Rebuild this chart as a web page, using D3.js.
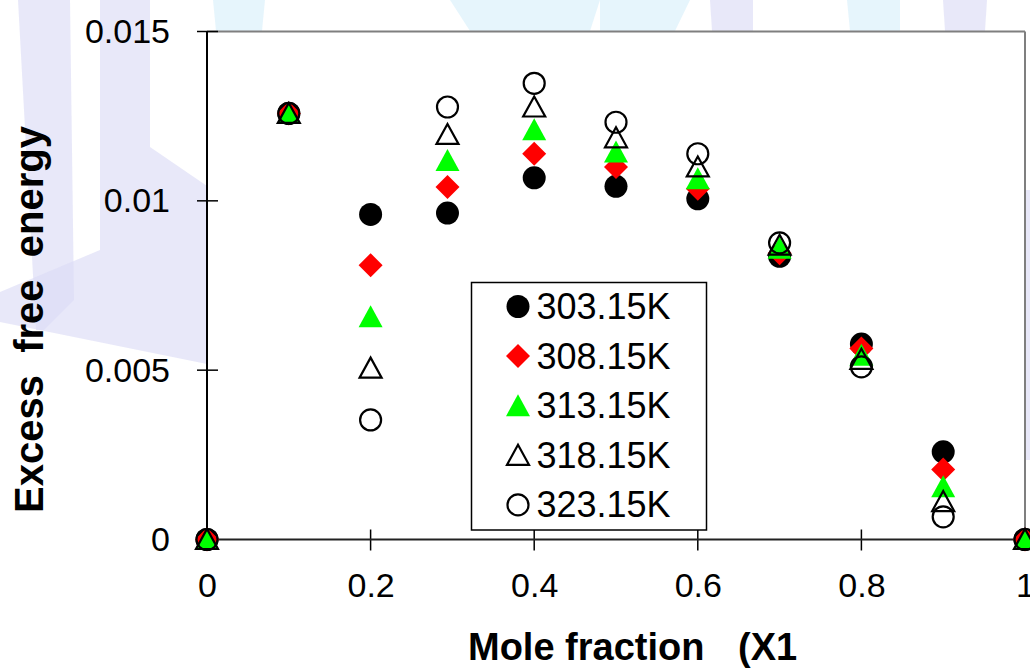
<!DOCTYPE html>
<html><head><meta charset="utf-8">
<script src="https://cdn.jsdelivr.net/npm/d3@7"></script>
<style>
body{margin:0;background:#fff}
svg{display:block}
text{font-family:"Liberation Sans",Arial,Helvetica,sans-serif;fill:#000}
</style>
</head><body>
<svg id="c" width="1030" height="672"></svg>
<script>
// ---- data ----
const xValues = [0, 0.1, 0.2, 0.294, 0.4, 0.5, 0.6, 0.7, 0.8, 0.9, 1];
const s303 = [0, 0.01258, 0.00960, 0.00964, 0.01068, 0.01043, 0.01006, 0.00836, 0.00577, 0.00259, 0];
const s308 = [0, 0.01258, 0.00810, 0.01041, 0.01139, 0.01100, 0.01036, 0.00845, 0.00564, 0.00207, 0];
const s313 = [0, 0.01258, 0.00658, 0.01119, 0.01210, 0.01144, 0.01065, 0.00860, 0.00544, 0.00156, 0];
const s318 = [0, 0.01258, 0.00506, 0.01196, 0.01277, 0.01186, 0.01100, 0.00869, 0.00532, 0.00112, 0];
const s323 = [0, 0.01258, 0.00353, 0.01277, 0.01347, 0.01232, 0.01139, 0.00876, 0.00510, 0.00067, 0];
const seriesNames = ["303.15K", "308.15K", "313.15K", "318.15K", "323.15K"];
const xTicks = [0, 0.2, 0.4, 0.6, 0.8, 1];
const yTicks = [0, 0.005, 0.01, 0.015];
const xTitle = ["Mole fraction", "(X1"];
const yTitle = "Excess  free  energy";

const series = [
  {name: seriesNames[0], values: s303, shape: "circle",   fill: "#000000", stroke: "none"},
  {name: seriesNames[1], values: s308, shape: "diamond",  fill: "#ff0000", stroke: "none"},
  {name: seriesNames[2], values: s313, shape: "triangle", fill: "#00ff00", stroke: "none"},
  {name: seriesNames[3], values: s318, shape: "otriangle", fill: "none", stroke: "#000000"},
  {name: seriesNames[4], values: s323, shape: "ocircle",  fill: "none", stroke: "#000000"}
];

const svg = d3.select("#c");
const L = 207, R = 1025, T = 31.5, B = 539.5;
const x = d3.scaleLinear().domain([0, 1]).range([L, R]);
const y = d3.scaleLinear().domain([0, 0.015]).range([B, T]);

// ---- faint watermark in the background ----
const wm = svg.append("g").attr("class", "watermark");
const lav = "#dcdcf6", cyan = "#d9f0fa";
const wmShapes = [
  {c: lav, p: [[18,0],[70,0],[74,300],[44,330],[36,330]]},
  {c: lav, p: [[100,0],[150,0],[150,147],[207,186],[207,364],[0,322],[0,292],[100,250]]},
  {c: cyan, p: [[213,0],[265,0],[262,31],[216,31]]},
  {c: cyan, p: [[450,0],[600,0],[590,31],[470,31]]},
  {c: cyan, p: [[600,0],[690,0],[675,31],[600,31]]},
  {c: lav, p: [[710,0],[753,0],[753,31],[712,31]]},
  {c: cyan, p: [[847,0],[900,0],[900,31],[850,31]]},
  {c: lav, p: [[943,0],[987,0],[985,31],[945,31]]},
  {c: lav, p: [[1026,190],[1030,190],[1030,460],[1026,460]]}
];
wm.selectAll("polygon").data(wmShapes).join("polygon")
  .attr("points", d => d.p.map(q => q.join(",")).join(" "))
  .attr("fill", d => d.c).attr("opacity", 0.65);

// ---- plot area ----
svg.append("rect").attr("x", L).attr("y", T).attr("width", R - L).attr("height", B - T).attr("fill", "#fff");

// frame
svg.append("line").attr("x1", L).attr("x2", R).attr("y1", T).attr("y2", T).attr("stroke", "#7f7f7f").attr("stroke-width", 2);
svg.append("line").attr("x1", R).attr("x2", R).attr("y1", T).attr("y2", B).attr("stroke", "#7f7f7f").attr("stroke-width", 2);

// axes (labels from d3 axes)
const xAxis = d3.axisBottom(x).tickValues(xTicks).tickFormat(d => String(d)).tickSize(0).tickPadding(33);
const yAxis = d3.axisLeft(y).tickValues(yTicks).tickFormat(d => String(d)).tickSize(0).tickPadding(37);
const gx = svg.append("g").attr("transform", `translate(0,${B})`).call(xAxis);
const gy = svg.append("g").attr("transform", `translate(${L},0)`).call(yAxis);
[gx, gy].forEach(g => {
  g.select(".domain").remove();
  g.selectAll("text").attr("font-size", 34).attr("font-family", "Liberation Sans, Arial, sans-serif").attr("fill", "#000");
});

// cross ticks
svg.append("g").selectAll("line").data(xTicks).join("line")
  .attr("x1", d => x(d)).attr("x2", d => x(d)).attr("y1", B - 10).attr("y2", B + 11)
  .attr("stroke", "#000").attr("stroke-width", 1.5);
svg.append("g").selectAll("line").data(yTicks).join("line")
  .attr("x1", L - 10).attr("x2", L + 11).attr("y1", d => y(d)).attr("y2", d => y(d))
  .attr("stroke", "#000").attr("stroke-width", 1.5);

// axis lines
svg.append("line").attr("x1", L).attr("x2", L).attr("y1", T).attr("y2", B + 1).attr("stroke", "#000").attr("stroke-width", 2);
svg.append("line").attr("x1", L).attr("x2", R).attr("y1", B).attr("y2", B).attr("stroke", "#222").attr("stroke-width", 2.2);

// ---- markers ----
function markerPath(shape) {
  switch (shape) {
    case "circle": return "M-11.5,0A11.5,11.5 0 1,0 11.5,0A11.5,11.5 0 1,0 -11.5,0Z";
    case "ocircle": return "M-10.5,0A10.5,10.5 0 1,0 10.5,0A10.5,10.5 0 1,0 -10.5,0Z";
    case "diamond": return "M0,-12L12,0L0,12L-12,0Z";
    case "triangle": return "M0,-11.5L12,10.5L-12,10.5Z";
    case "otriangle": return "M0,-10.5L11,9.5L-11,9.5Z";
  }
}
const gm = svg.append("g");
series.forEach(s => {
  gm.append("g").selectAll("path").data(s.values.map((v, i) => [xValues[i], v])).join("path")
    .attr("d", markerPath(s.shape))
    .attr("transform", d => `translate(${x(d[0])},${y(d[1])})`)
    .attr("fill", s.fill)
    .attr("stroke", s.stroke)
    .attr("stroke-width", s.stroke === "none" ? 0 : 2.2);
});

// ---- legend ----
const lg = svg.append("g");
lg.append("rect").attr("x", 471.5).attr("y", 282.5).attr("width", 235).attr("height", 247.5)
  .attr("fill", "#fff").attr("stroke", "#000").attr("stroke-width", 1.5);
const rowY = i => 306.5 + i * 49.6;
series.forEach((s, i) => {
  lg.append("path").attr("d", markerPath(s.shape))
    .attr("transform", `translate(518,${rowY(i)})`)
    .attr("fill", s.fill).attr("stroke", s.stroke)
    .attr("stroke-width", s.stroke === "none" ? 0 : 2.2);
  lg.append("text").attr("x", 536.5).attr("y", rowY(i) + 12.5).attr("font-size", 36).text(s.name);
});

// ---- titles ----
svg.append("text").attr("x", 468).attr("y", 660).attr("font-size", 38).attr("font-weight", "bold").text(xTitle[0]);
svg.append("text").attr("x", 738).attr("y", 660).attr("font-size", 38).attr("font-weight", "bold").text(xTitle[1]);
svg.append("text").attr("transform", "translate(43,513) rotate(-90)")
  .attr("x", 0).attr("y", 0).attr("font-size", 40).attr("font-weight", "bold")
  .style("white-space", "pre").text(yTitle);
</script>
</body></html>
